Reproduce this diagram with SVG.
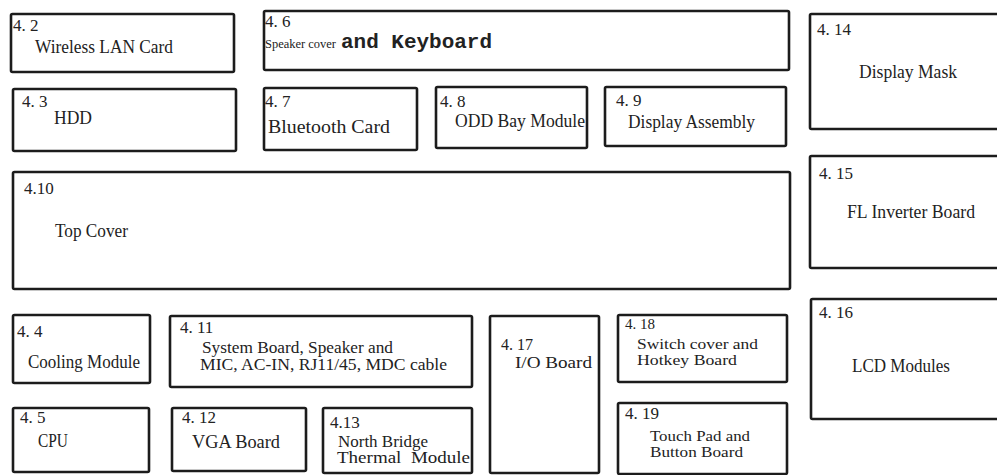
<svg xmlns="http://www.w3.org/2000/svg" width="997" height="475" viewBox="0 0 997 475">
<style>
.box{fill:#fff;stroke:#1c1c1c;stroke-width:2.6}
.num{font-family:"Liberation Serif","Times New Roman",serif;font-size:17px;fill:#222}
.lbl{font-family:"Liberation Serif","Times New Roman",serif;font-size:18px;fill:#222}
.sm{font-family:"Liberation Serif","Times New Roman",serif;font-size:16px;fill:#222}
.xs{font-family:"Liberation Serif","Times New Roman",serif;font-size:15px;fill:#222}
.mono{font-family:"Liberation Mono","Courier New",monospace;font-size:20px;font-weight:bold;fill:#222}
</style>
<rect width="997" height="475" fill="#fff"/>
<g id="connectors"></g>
<g id="n4-2"><rect class="box" x="11" y="14" width="223" height="58" rx="1.5"/><text class="num" x="13" y="31">4. 2</text><text class="lbl" x="35" y="53" textLength="138" lengthAdjust="spacingAndGlyphs">Wireless LAN Card</text></g>
<g id="n4-6"><rect class="box" x="264" y="11" width="525" height="59" rx="1.5"/><text class="num" x="265" y="27">4. 6</text><text class="sm" x="265" y="48" style="font-size:13.5px" textLength="71" lengthAdjust="spacingAndGlyphs">Speaker cover</text><text class="mono" x="341" y="48" textLength="151" lengthAdjust="spacingAndGlyphs">and Keyboard</text></g>
<g id="n4-14"><rect class="box" x="810" y="14" width="200" height="115" rx="1.5"/><text class="num" x="817" y="35">4. 14</text><text class="lbl" x="859" y="78" textLength="98" lengthAdjust="spacingAndGlyphs">Display Mask</text></g>
<g id="n4-3"><rect class="box" x="13" y="89" width="223" height="62" rx="1.5"/><text class="num" x="22" y="107">4. 3</text><text class="lbl" x="54" y="124" textLength="38" lengthAdjust="spacingAndGlyphs">HDD</text></g>
<g id="n4-7"><rect class="box" x="264" y="88" width="153" height="62" rx="1.5"/><text class="num" x="265" y="107">4. 7</text><text class="lbl" x="268" y="133" textLength="122" lengthAdjust="spacingAndGlyphs">Bluetooth Card</text></g>
<g id="n4-8"><rect class="box" x="436" y="87" width="151" height="61" rx="1.5"/><text class="num" x="440" y="107">4. 8</text><text class="lbl" x="455" y="127" textLength="130" lengthAdjust="spacingAndGlyphs">ODD Bay Module</text></g>
<g id="n4-9"><rect class="box" x="605" y="87" width="181" height="59" rx="1.5"/><text class="num" x="616" y="106">4. 9</text><text class="lbl" x="628" y="128" textLength="127" lengthAdjust="spacingAndGlyphs">Display Assembly</text></g>
<g id="n4-10"><rect class="box" x="13" y="172" width="777" height="117" rx="1.5"/><text class="num" x="24" y="194">4.10</text><text class="lbl" x="55" y="237" textLength="73" lengthAdjust="spacingAndGlyphs">Top Cover</text></g>
<g id="n4-15"><rect class="box" x="810" y="156" width="200" height="112" rx="1.5"/><text class="num" x="819" y="179">4. 15</text><text class="lbl" x="847" y="218" textLength="128" lengthAdjust="spacingAndGlyphs">FL Inverter Board</text></g>
<g id="n4-16"><rect class="box" x="811" y="299" width="200" height="120" rx="1.5"/><text class="num" x="819" y="318">4. 16</text><text class="lbl" x="852" y="372" textLength="98" lengthAdjust="spacingAndGlyphs">LCD Modules</text></g>
<g id="n4-4"><rect class="box" x="13" y="315" width="137" height="68" rx="1.5"/><text class="num" x="17" y="337">4. 4</text><text class="lbl" x="28" y="368" textLength="112" lengthAdjust="spacingAndGlyphs">Cooling Module</text></g>
<g id="n4-11"><rect class="box" x="170" y="316" width="302" height="71" rx="1.5"/><text class="num" x="180" y="333">4. 11</text><text class="sm" x="202" y="353" textLength="191" lengthAdjust="spacingAndGlyphs">System Board, Speaker and</text><text class="sm" x="200" y="370" textLength="247" lengthAdjust="spacingAndGlyphs">MIC, AC-IN, RJ11/45, MDC cable</text></g>
<g id="n4-17"><rect class="box" x="490" y="316" width="109" height="157" rx="1.5"/><text class="num" x="501" y="350" style="font-size:16px">4. 17</text><text class="sm" x="515" y="368" textLength="77" lengthAdjust="spacingAndGlyphs">I/O Board</text></g>
<g id="n4-18"><rect class="box" x="618" y="315" width="169" height="67" rx="1.5"/><text class="num" x="625" y="329" style="font-size:15px">4. 18</text><text class="xs" x="637" y="349" textLength="121" lengthAdjust="spacingAndGlyphs">Switch cover and</text><text class="xs" x="637" y="365" textLength="100" lengthAdjust="spacingAndGlyphs">Hotkey Board</text></g>
<g id="n4-5"><rect class="box" x="13" y="408" width="136" height="64" rx="1.5"/><text class="num" x="20" y="423">4. 5</text><text class="lbl" x="38" y="447" textLength="30" lengthAdjust="spacingAndGlyphs">CPU</text></g>
<g id="n4-12"><rect class="box" x="172" y="408" width="134" height="63" rx="1.5"/><text class="num" x="182" y="423">4. 12</text><text class="lbl" x="192" y="448" textLength="88" lengthAdjust="spacingAndGlyphs">VGA Board</text></g>
<g id="n4-13"><rect class="box" x="323" y="408" width="149" height="65" rx="1.5"/><text class="num" x="330" y="428">4.13</text><text class="sm" x="338" y="447" textLength="90" lengthAdjust="spacingAndGlyphs">North Bridge</text><text class="sm" x="337" y="463" textLength="133" lengthAdjust="spacingAndGlyphs" xml:space="preserve">Thermal  Module</text></g>
<g id="n4-19"><rect class="box" x="618" y="403" width="169" height="71" rx="1.5"/><text class="num" x="625" y="419">4. 19</text><text class="xs" x="650" y="441" textLength="100" lengthAdjust="spacingAndGlyphs">Touch Pad and</text><text class="xs" x="650" y="457" textLength="93" lengthAdjust="spacingAndGlyphs">Button Board</text></g>
</svg>
